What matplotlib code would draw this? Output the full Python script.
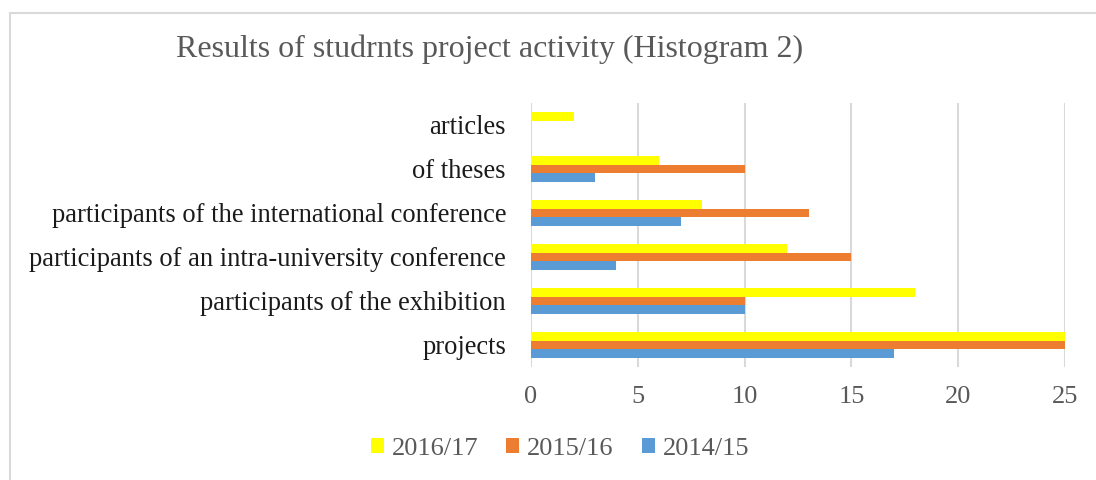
import matplotlib.pyplot as plt
import numpy as np
from matplotlib.patches import Rectangle

categories = ["projects",
              "participants of the exhibition",
              "participants of an intra-university conference",
              "participants of the international conference",
              "of theses",
              "articles"]
years = ["2014/15", "2015/16", "2016/17"]
vals_1415 = [17, 10, 4, 7, 3, 0]
vals_1516 = [25, 10, 15, 13, 10, 0]
vals_1617 = [25, 18, 12, 8, 6, 2]
x_ticks = [0, 5, 10, 15, 20, 25]

colors = ["#5B9BD5", "#ED7D31", "#FFFF00"]
gray = "#595959"

plt.rcParams['font.family'] = ['Liberation Serif', 'DejaVu Serif']

fig = plt.figure(figsize=(10.96, 4.8), dpi=100)
W, H = 1096, 480
ax = fig.add_axes([531 / W, 1 - 367 / H, (1065 - 531) / W, (367 - 103) / H])

# chart area border (cut at right/bottom like the screenshot)
fig.patches.append(Rectangle((10 / W, -0.1), 1.2, 1 - 13 / H + 0.1,
                             transform=fig.transFigure, fill=False,
                             edgecolor="#D9D9D9", linewidth=1.5))

y = np.arange(len(categories))
h = 0.2
bars = []
for off, vals, c, lab in zip([-h, 0, h], [vals_1415, vals_1516, vals_1617], colors, years):
    bars.append(ax.barh(y + off, vals, height=h, color=c, label=lab, zorder=3))

ax.set_xlim(0, 25)
ax.set_ylim(-0.5, 5.5)
ax.set_xticks(x_ticks)
ax.set_yticks(y)
ax.set_yticklabels(categories, fontsize=19.1, color="#1a1a1a")
ax.tick_params(axis='x', labelsize=19, labelcolor=gray, length=0, pad=14)
ax.tick_params(axis='y', length=0, pad=18)
ax.grid(axis='x', color="#D9D9D9", linewidth=1.5, zorder=0)
for s in ax.spines.values():
    s.set_visible(False)

fig.text(490 / W, 1 - 49 / H, "Results of studrnts project activity (Histogram 2)",
         ha='center', va='center', fontsize=23, color=gray)

fig.legend(handles=bars[::-1], loc='center', bbox_to_anchor=(560 / W, 1 - 449 / H),
           ncol=3, frameon=False, fontsize=19, labelcolor=gray,
           handlelength=0.5, handleheight=0.5, handletextpad=0.3, columnspacing=1.05)

fig.savefig("out.png", dpi=100)
